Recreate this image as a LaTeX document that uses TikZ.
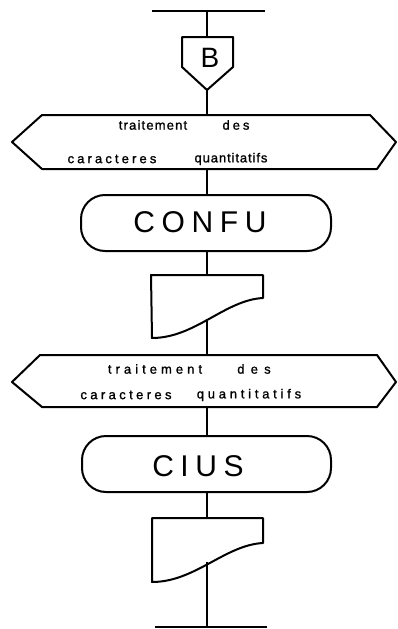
\documentclass[tikz,border=0pt]{standalone}
\usepackage{fontspec}
\setmainfont{Liberation Sans}
\newfontfamily\bigsp[LetterSpace=22]{Liberation Sans}
\newfontfamily\labelfont[FakeBold=1.2]{Liberation Sans}
% one word set with its own tracking
\newcommand\spword[2]{{\addfontfeatures{LetterSpace=#1}#2}}
\begin{document}
\begin{tikzpicture}[x=1pt,y=-1pt,
  ln/.style={line width=2pt,line join=round},
  lbl/.style={inner sep=0pt,font=\labelfont\fontsize{13}{15}\selectfont},
  biglbl/.style={inner sep=0pt,font=\bigsp\fontsize{30}{30}\selectfont}]
\useasboundingbox (0,0) rectangle (398,629);

% ---- entry bar and connector B ----
\coordinate (topL) at (152,11);
\coordinate (topR) at (265,11);
\coordinate (topM) at (207,11);
\draw[ln] (topL) -- (topR);
\coordinate (bTop) at (207,37);
\coordinate (bTip) at (207,90);
\draw[ln] (182,37) -- (233,37) -- (233,67) -- (bTip) -- (182,67) -- cycle;
\node[inner sep=0pt,font=\fontsize{28}{28}\selectfont] (bLbl) at (210,58) {B};
\draw[ln] (topM) -- (bTop);

% ---- first preparation hexagon ----
\coordinate (h1Top) at (207,115);
\coordinate (h1Bot) at (207,169);
\draw[ln] (42,115) -- (370,115) -- (396,142) -- (377,169) -- (42,169) -- (12,142) -- cycle;
\node[lbl] (h1a) at (153,125) {\spword{9}{traitement}};
\node[lbl] (h1b) at (236,125) {\spword{23}{des}};
\node[lbl] (h1c) at (112,159) {\spword{24}{caracteres}};
\node[lbl] (h1d) at (231,159) {\spword{7}{quantitatifs}};
\draw[ln] (bTip) -- (h1Top);

% ---- CONFU terminal ----
\coordinate (c1Top) at (207,195);
\coordinate (c1Bot) at (207,251);
\draw[ln,rounded corners=24pt] (81,195) rectangle (331,251);
\node[biglbl] (confu) at (200,222) {CONFU};
\draw[ln] (h1Bot) -- (c1Top);

% ---- first document ----
\coordinate (d1Top) at (207,275);
\coordinate (d1Mid) at (207,319);
\draw[ln] (151,275) -- (263,275) -- (263,298)
  .. controls (225,300) and (195,338) .. (152,338) -- cycle;
\draw[ln] (c1Bot) -- (d1Top);

% ---- second preparation hexagon ----
\coordinate (h2Top) at (207,355);
\coordinate (h2Bot) at (207,407);
\draw[ln] (40,355) -- (377,355) -- (396,382) -- (377,407) -- (42,407) -- (12,382) -- cycle;
\node[lbl] (h2a) at (155,369) {\spword{31}{traitement}};
\node[lbl] (h2b) at (254,369) {\spword{48}{des}};
\node[lbl] (h2c) at (126,395) {\spword{26}{caracteres}};
\node[lbl] (h2d) at (249,395) {\spword{29}{quantitatifs}};
\draw[ln] (d1Mid) -- (h2Top);

% ---- CIUS terminal ----
\coordinate (c2Top) at (207,436);
\coordinate (c2Bot) at (207,492);
\draw[ln,rounded corners=24pt] (82,436) rectangle (331,492);
\node[biglbl] (cius) at (198,466) {CIUS};
\draw[ln] (h2Bot) -- (c2Top);

% ---- second document ----
\coordinate (d2Top) at (207,518);
\coordinate (d2Mid) at (207,562);
\draw[ln] (152,518) -- (263,518) -- (263,543)
  .. controls (225,545) and (195,582) .. (152,582) -- cycle;
\draw[ln] (c2Bot) -- (d2Top);

% ---- exit bar ----
\coordinate (botL) at (155,627);
\coordinate (botR) at (267,627);
\coordinate (botM) at (207,627);
\draw[ln] (botL) -- (botR);
\draw[ln] (d2Mid) -- (botM);
\end{tikzpicture}
\end{document}
